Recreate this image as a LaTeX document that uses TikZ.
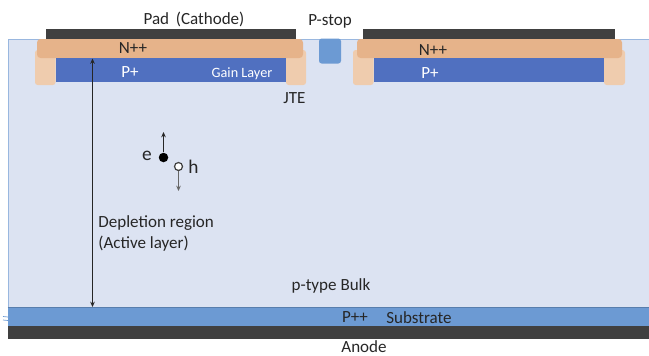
\documentclass[tikz,border=0pt]{standalone}
\usepackage{fontspec}
\setmainfont{Carlito}
\usetikzlibrary{arrows.meta}
\definecolor{bulkc}{HTML}{DCE3F2}
\definecolor{subc}{HTML}{6C9AD3}
\definecolor{metalc}{HTML}{404040}
\definecolor{nppc}{HTML}{E6B38A}
\definecolor{jtec}{HTML}{EFCCAE}
\definecolor{gainc}{HTML}{5070C0}
\tikzset{%
    lbl/.style={inner sep=0pt,font=\fontsize{9.7pt}{12pt}\selectfont,text=black!85},
    wlbl/.style={lbl,text=white},
    arr/.style={-{Stealth[length=3pt,width=2.6pt]},line width=0.5pt,black!85}
}

\begin{document}
\begin{tikzpicture}[x=0.02cm,y=-0.02cm]
        \useasboundingbox (0,0) rectangle (649,355);

        % bulk and back side
        \fill[bulkc] (8,39.5) rectangle (649,307);
        \draw[subc!60!bulkc,line width=0.5pt] (649,39.5) -- (8.3,39.5) -- (8.3,307);
        \fill[subc] (7.5,307) rectangle (649,326);
        \draw[subc!70!black,opacity=0.6,line width=0.5pt] (7.5,307) -- (649,307);
        \fill[metalc] (7.5,326) rectangle (649,339);
        \draw[subc,line width=0.4pt] (3,316.5) -- (13,317.5) (3,320) -- (13,321);
        \draw[subc,line width=0.4pt] (646,316.5) -- (649,317) (646,320) -- (649,320.5);

        % left pixel
        \fill[metalc] (46,29) rectangle (296,39);
        \fill[jtec,rounded corners=1.5pt] (35,50) rectangle (55.5,85);
        \fill[jtec,rounded corners=1.5pt] (286,50) rectangle (306,85);
        \fill[nppc,rounded corners=2pt] (37,39) rectangle (303,58);
        \fill[gainc] (56,58) rectangle (286,82);

        % right pixel
        \fill[metalc] (363,29) rectangle (615,39);
        \fill[jtec,rounded corners=1.5pt] (353,50) rectangle (373.5,85);
        \fill[jtec,rounded corners=1.5pt] (604,50) rectangle (625,85);
        \fill[nppc,rounded corners=2pt] (357,39) rectangle (622,58);
        \fill[gainc] (374,58) rectangle (604,82);

        % p-stop
        \fill[subc,rounded corners=1.5pt] (319,38.5) rectangle (341,63.5);

        \node[lbl] (pad) at (194,19){Pad\, (Cathode)};
        \node[lbl] (pstop) at (330,21.5){P-stop};
        \node[lbl] (n1) at (133,48.5){N++};
        \node[lbl] (n2) at (433,50.5){N++};
        \node[wlbl] (p1) at (130,72.5){P+};
        \node[wlbl] (p2) at (430,73){P+};
        \node[wlbl,font=\fontsize{8.1pt}{10pt}\selectfont] (gain) at (242,73.5){Gain Layer};
        \node[lbl] (jte) at (294.5,98.5){JTE};
        \node[lbl,align=left,anchor=west] (depl) at (98,233){Depletion region\\(Active layer)};
        \node[lbl] (bulk) at (331,285.5){p-type Bulk};
        \node[lbl] (ppp) at (355,317.5){P++};
        \node[lbl] (sub) at (419,317.5){Substrate};
        \node[lbl] (anode) at (364,346.5){Anode};

        \coordinate (dtop) at (92.5,58.5);
        \coordinate (dbot) at (92.5,307);
        \draw[arr,{Stealth[length=3pt,width=2.6pt]}-{Stealth[length=3pt,width=2.6pt]}] (dtop) -- (dbot);

        % carriers
        \node[inner sep=0pt,circle,minimum size=0.19cm,fill=black] (edot) at (163.5,157.5){};
        \node[inner sep=0pt,circle,minimum size=0.16cm,fill=white,draw=black!75,line width=0.7pt] (hdot) at (178.5,166.5){};
        \node[lbl,font=\fontsize{11pt}{13pt}\selectfont] (e) at (147,156){e};
        \node[lbl,font=\fontsize{11pt}{13pt}\selectfont] (h) at (193.5,167){h};
        \coordinate (eend) at (163.5,132);
        \coordinate (hend) at (178.5,191);
        \draw[arr] (edot) -- (eend);
        \draw[arr,black!60,line width=0.7pt] (hdot) -- (hend);
    \end{tikzpicture}
\end{document}
